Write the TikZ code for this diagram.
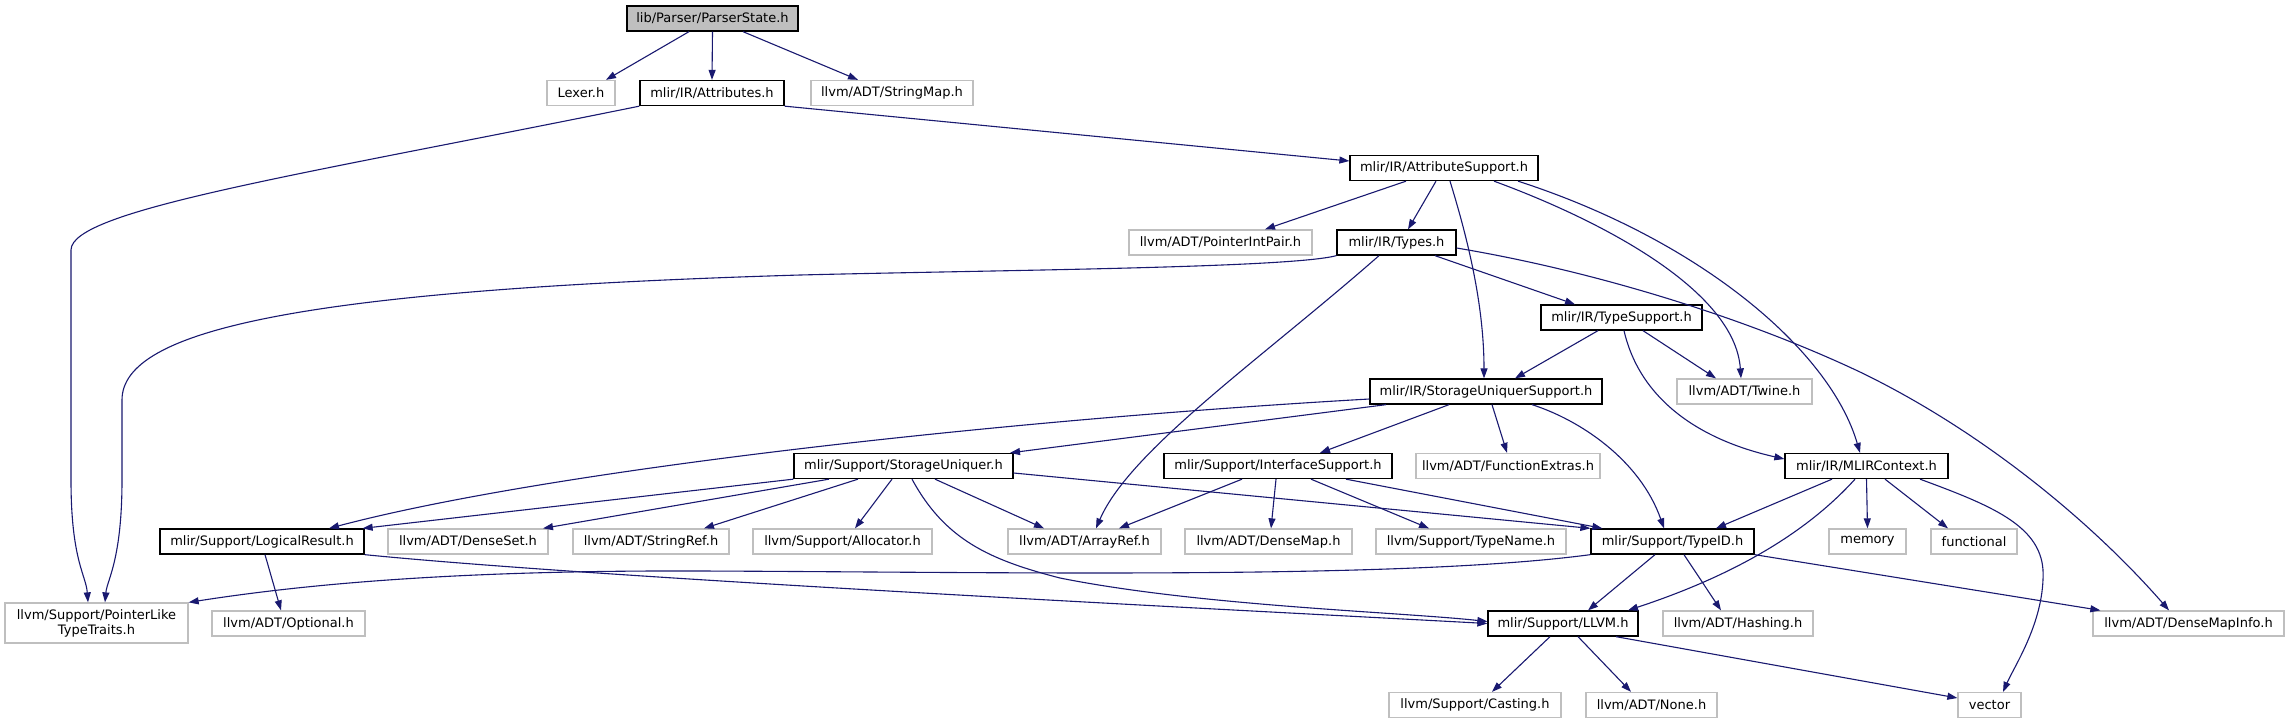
\documentclass[tikz,border=0pt]{standalone}
\usepackage{fontspec}
\setmainfont{DejaVu Sans}
\usetikzlibrary{arrows.meta}
\definecolor{edgec}{HTML}{191970}
\definecolor{greysf}{HTML}{BFBFBF}
\begin{document}
\begin{tikzpicture}[x=1pt,y=-1pt,
  box/.style={draw=black, line width=1.3pt, fill=white, minimum height=25pt, inner sep=0pt, font=\fontsize{13}{15}\selectfont},
  ext/.style={box, draw=greysf},
  root/.style={box, fill=greysf},
  edge/.style={draw=edgec, line width=1.1pt, -{Triangle[length=10pt,width=7pt]}}
]
\useasboundingbox[fill=white] (0,0) rectangle (2289,724);

\node[root, minimum width=171pt] (ps) at (712.5,18.5) {lib/Parser/ParserState.h};
\node[ext, minimum width=68pt] (lex) at (581,93) {Lexer.h};
\node[box, minimum width=144pt] (attr) at (712,93) {mlir/IR/Attributes.h};
\node[ext, minimum width=162pt] (smap) at (892,93) {llvm/ADT/StringMap.h};
\node[box, minimum width=188pt] (as) at (1444,168) {mlir/IR/AttributeSupport.h};
\node[ext, minimum width=183pt] (pip) at (1220.5,242.5) {llvm/ADT/PointerIntPair.h};
\node[box, minimum width=119pt] (ty) at (1396.5,242.5) {mlir/IR/Types.h};
\node[box, minimum width=161pt] (ts) at (1621.5,317.5) {mlir/IR/TypeSupport.h};
\node[box, minimum width=232pt] (sus) at (1486,391.5) {mlir/IR/StorageUniquerSupport.h};
\node[ext, minimum width=135pt] (tw) at (1744.5,391.5) {llvm/ADT/Twine.h};
\node[box, minimum width=219pt] (su) at (903.5,466) {mlir/Support/StorageUniquer.h};
\node[box, minimum width=228pt] (is) at (1278,466) {mlir/Support/InterfaceSupport.h};
\node[ext, minimum width=184pt] (fe) at (1508,466) {llvm/ADT/FunctionExtras.h};
\node[box, minimum width=163pt] (ctx) at (1866.5,466) {mlir/IR/MLIRContext.h};
\node[box, minimum width=204pt] (lr) at (262,541.5) {mlir/Support/LogicalResult.h};
\node[ext, minimum width=160pt] (dset) at (468,541.5) {llvm/ADT/DenseSet.h};
\node[ext, minimum width=156pt] (sref) at (651,541.5) {llvm/ADT/StringRef.h};
\node[ext, minimum width=179pt] (alloc) at (842.5,541.5) {llvm/Support/Allocator.h};
\node[ext, minimum width=153pt] (aref) at (1084.5,541.5) {llvm/ADT/ArrayRef.h};
\node[ext, minimum width=167pt] (dmap) at (1268.5,541.5) {llvm/ADT/DenseMap.h};
\node[ext, minimum width=190pt] (tn) at (1471,541.5) {llvm/Support/TypeName.h};
\node[box, minimum width=163pt] (tid) at (1672.5,541.5) {mlir/Support/TypeID.h};
\node[ext, minimum width=77pt] (mem) at (1867.5,541.5) {memory};
\node[ext, minimum width=86pt] (func) at (1974,541.5) {functional};
\node[ext, minimum width=183pt, minimum height=40pt, align=center] (plt) at (96.5,623) {llvm/Support/PointerLike\\TypeTraits.h};
\node[ext, minimum width=153pt] (opt) at (288.5,623.5) {llvm/ADT/Optional.h};
\node[box, minimum width=150pt] (llvm) at (1563,623.5) {mlir/Support/LLVM.h};
\node[ext, minimum width=150pt] (hash) at (1738,623.5) {llvm/ADT/Hashing.h};
\node[ext, minimum width=191pt] (dmi) at (2188.5,623.5) {llvm/ADT/DenseMapInfo.h};
\node[ext, minimum width=172pt] (cast) at (1475,705) {llvm/Support/Casting.h};
\node[ext, minimum width=131pt] (none) at (1651.5,705) {llvm/ADT/None.h};
\node[ext, minimum width=63pt] (vec) at (1989.5,705) {vector};

% ParserState
\draw[edge] ([xshift=-23.5pt]ps.south) -- ([xshift=25pt]lex.north);
\draw[edge] (ps.south) -- (attr.north);
\draw[edge] ([xshift=30.5pt]ps.south) -- ([xshift=-34pt]smap.north);
% Attributes
\draw[edge] (attr.south west) .. controls (300,175) and (71,210) .. (71,250) -- (71,480) .. controls (71,560) and (86,575) .. ([xshift=-8.5pt]plt.north);
\draw[edge] (attr.south east) -- ([yshift=7pt]as.west);
% AttributeSupport
\draw[edge] ([xshift=-38pt]as.south) -- ([xshift=44.5pt]pip.north);
\draw[edge] ([xshift=-8pt]as.south) -- ([xshift=11.5pt]ty.north);
\draw[edge] ([xshift=6pt]as.south) .. controls (1465,230) and (1484,300) .. ([xshift=-2pt]sus.north);
\draw[edge] ([xshift=50pt]as.south) .. controls (1600,220) and (1735,290) .. ([xshift=-3.5pt]tw.north);
\draw[edge] ([xshift=74pt]as.south) .. controls (1700,240) and (1830,350) .. ([xshift=-6.5pt]ctx.north);
% Types
\draw[edge] (ty.south west) .. controls (1290,268) and (1000,270) .. (800,275) .. controls (300,290) and (122,330) .. (122,400) -- (122,480) .. controls (122,560) and (107,580) .. ([xshift=8.5pt]plt.north);
\draw[edge] ([xshift=38.5pt]ty.south) -- ([xshift=-46.5pt]ts.north);
\draw[edge] ([xshift=-17.5pt]ty.south) .. controls (1260,360) and (1130,450) .. ([xshift=11.5pt]aref.north);
\draw[edge] ([yshift=-5.5pt]ty.east) .. controls (1600,272) and (1750,320) .. (1860,372) .. controls (1980,430) and (2090,520) .. ([xshift=-19.5pt]dmi.north);
% TypeSupport
\draw[edge] ([xshift=-23.5pt]ts.south) -- ([xshift=29pt]sus.north);
\draw[edge] ([xshift=21.5pt]ts.south) -- ([xshift=-28.5pt]tw.north);
\draw[edge] ([xshift=2.5pt]ts.south) .. controls (1640,400) and (1700,440) .. ([yshift=7pt]ctx.west);
% StorageUniquerSupport
\draw[edge] ([yshift=-7.5pt]sus.west) .. controls (1000,420) and (550,470) .. ([xshift=67pt]lr.north);
\draw[edge] ([xshift=-100pt]sus.south) -- ([xshift=106.5pt]su.north);
\draw[edge] ([xshift=-37pt]sus.south) -- ([xshift=42pt]is.north);
\draw[edge] ([xshift=6pt]sus.south) -- ([xshift=-1pt]fe.north);
\draw[edge] ([xshift=46pt]sus.south) .. controls (1580,420) and (1640,460) .. ([xshift=-8.5pt]tid.north);
% StorageUniquer
\draw[edge] (su.south west) -- ([xshift=-2pt]lr.north east);
\draw[edge] ([xshift=-74.5pt]su.south) -- ([xshift=75pt]dset.north);
\draw[edge] ([xshift=-45.5pt]su.south) -- ([xshift=53pt]sref.north);
\draw[edge] ([xshift=-11.5pt]su.south) -- ([xshift=12.5pt]alloc.north);
\draw[edge] ([xshift=31.5pt]su.south) -- ([xshift=-40.5pt]aref.north);
\draw[edge] ([xshift=8.5pt]su.south) .. controls (945,540) and (990,560) .. (1060,578) .. controls (1200,606) and (1400,612) .. ([yshift=2pt]llvm.west);
\draw[edge] ([yshift=-7pt]su.east) -- (tid.north west);
% InterfaceSupport
\draw[edge] ([xshift=-36pt]is.south) -- ([xshift=34.5pt]aref.north);
\draw[edge] ([xshift=-2pt]is.south) -- ([xshift=2.5pt]dmap.north);
\draw[edge] ([xshift=33pt]is.south) -- ([xshift=-42pt]tn.north);
\draw[edge] ([xshift=68pt]is.south) -- ([xshift=12pt]tid.north west);
% MLIRContext
\draw[edge] ([xshift=-34.5pt]ctx.south) -- ([xshift=43.5pt]tid.north);
\draw[edge] ([xshift=-11.5pt]ctx.south) .. controls (1800,540) and (1720,580) .. ([xshift=65pt]llvm.north);
\draw[edge] (ctx.south) -- (mem.north);
\draw[edge] ([xshift=18.5pt]ctx.south) -- ([xshift=-26pt]func.north);
\draw[edge] ([xshift=53.5pt]ctx.south) .. controls (1990,505) and (2040,525) .. (2043,570) .. controls (2045,620) and (2015,665) .. ([xshift=13.5pt]vec.north);
% LogicalResult
\draw[edge] ([xshift=3pt]lr.south) -- ([xshift=-7.5pt]opt.north);
\draw[edge] (lr.south east) .. controls (600,578) and (1200,608) .. (llvm.west);
% TypeID
\draw[edge] (tid.south west) .. controls (1400,580) and (1000,572) .. (700,571) .. controls (450,570) and (300,585) .. (plt.north east);
\draw[edge] ([xshift=-17.5pt]tid.south) -- ([xshift=25pt]llvm.north);
\draw[edge] ([xshift=11.5pt]tid.south) -- ([xshift=-17pt]hash.north);
\draw[edge] (tid.south east) -- ([xshift=8pt]dmi.north west);
% LLVM
\draw[edge] ([xshift=-13pt]llvm.south) -- ([xshift=17pt]cast.north);
\draw[edge] ([xshift=15pt]llvm.south) -- ([xshift=-20.5pt]none.north);
\draw[edge] ([xshift=53pt]llvm.south) -- ([yshift=7pt]vec.west);
\end{tikzpicture}
\end{document}
